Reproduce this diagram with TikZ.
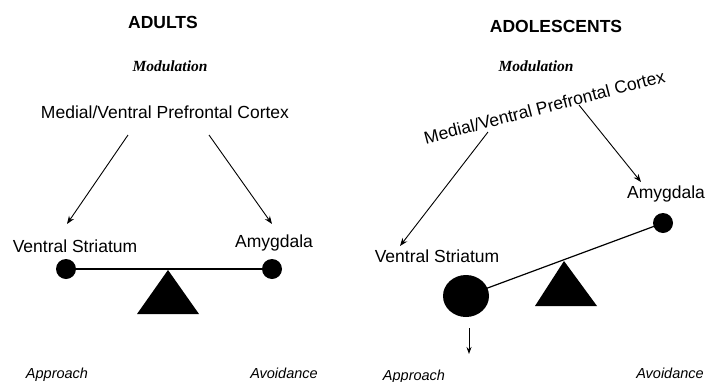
\documentclass[tikz,border=0pt]{standalone}
\usepackage{fontspec}
\setmainfont{Liberation Sans}
\newfontfamily\serifit{Liberation Serif}
\usetikzlibrary{arrows.meta}
\tikzset{
  lbl/.style={inner sep=0pt, anchor=base, font=\fontsize{17.5}{20}\selectfont},
  ttl/.style={inner sep=0pt, anchor=base, font=\fontsize{17.5}{20}\selectfont\bfseries},
  modl/.style={inner sep=0pt, anchor=base, font=\fontsize{15.5}{18}\selectfont\serifit\itshape\bfseries},
  side/.style={inner sep=0pt, anchor=base, font=\fontsize{14.5}{17}\selectfont\itshape},
  arr/.style={line width=0.9pt, -{Stealth[length=8pt,width=6pt]}},
  beam/.style={line width=1.2pt},
  ball/.style={fill=black}
}
\begin{document}
\begin{tikzpicture}[x=1pt,y=-1pt]
\useasboundingbox (0,0) rectangle (705,381);
% ---------- ADULTS ----------
\node[ttl] (tA) at (163,28) {ADULTS};
\node[modl] (mA) at (170,71) {Modulation};
\node[lbl] (pA) at (165,118) {Medial/Ventral Prefrontal Cortex};
\coordinate (pAl) at (128,135);
\coordinate (pAr) at (209,135);
\coordinate (vAt) at (67,224);
\coordinate (aAt) at (272,224);
\draw[arr] (pAl) -- (vAt);
\draw[arr] (pAr) -- (aAt);
\node[lbl] (vA) at (75,252) {Ventral Striatum};
\node[lbl] (aA) at (274,247) {Amygdala};
\coordinate (bAl) at (66,269);
\coordinate (bAr) at (272,269);
\draw[beam] (bAl) -- (bAr);
\fill[ball] (bAl) circle (10);
\fill[ball] (bAr) circle (10);
\coordinate (fA) at (168,270);
\fill (fA) -- (199,314) -- (137,314) -- cycle;
\node[side] (apA) at (57,378) {Approach};
\node[side] (avA) at (284,378) {Avoidance};
% ---------- ADOLESCENTS ----------
\node[ttl] (tB) at (556,32) {ADOLESCENTS};
\node[modl] (mB) at (536,71) {Modulation};
\node[lbl, rotate=14.5] (pB) at (546,113) {Medial/Ventral Prefrontal Cortex};
\coordinate (pBl) at (488,132);
\coordinate (pBr) at (579,105);
\coordinate (vBt) at (400,246);
\coordinate (aBt) at (641,182);
\draw[arr] (pBl) -- (vBt);
\draw[arr] (pBr) -- (aBt);
\node[lbl] (aB) at (666,198) {Amygdala};
\node[lbl] (vB) at (437,262) {Ventral Striatum};
\coordinate (bBl) at (466,296);
\coordinate (bBr) at (663,223);
\draw[beam] (bBl) -- (bBr);
\fill[ball] (bBl) ellipse [x radius=23, y radius=21];
\fill[ball] (bBr) circle (10);
\coordinate (fB) at (564,261);
\fill (fB) -- (597,306) -- (535,306) -- cycle;
\coordinate (dB1) at (469,328);
\coordinate (dB2) at (469,354);
\draw[line width=0.9pt, -{Stealth[length=7pt,width=5pt]}] (dB1) -- (dB2);
\node[side] (apB) at (414,380) {Approach};
\node[side] (avB) at (670,378) {Avoidance};
\end{tikzpicture}
\end{document}
